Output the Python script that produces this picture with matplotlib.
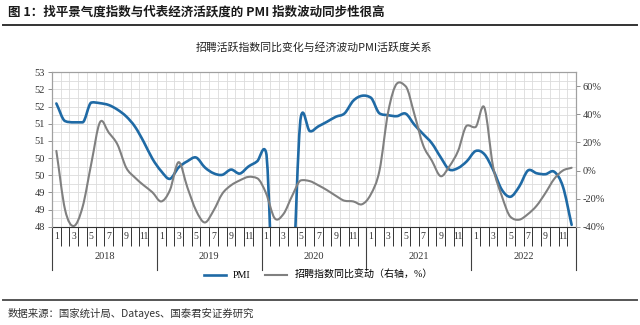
import numpy as np
import matplotlib
matplotlib.use("Agg")
import matplotlib.pyplot as plt
import matplotlib.transforms as mtransforms
from matplotlib.path import Path
from matplotlib.patches import PathPatch
from matplotlib.lines import Line2D

plt.rcParams['font.family'] = ['Liberation Serif', 'Noto Sans CJK SC']

years = ["2018", "2019", "2020", "2021", "2022"]
month_labels = ["1", "3", "5", "7", "9", "11"]

# PMI (left axis), monthly 2018-01 .. 2022-12
pmi = [51.99, 51.42, 51.38, 51.38, 52.02, 52.00, 51.94, 51.79, 51.57, 51.24, 50.75, 50.20,
       49.80, 49.55, 49.92, 50.12, 50.24, 49.92, 49.73, 49.68, 49.85, 49.72, 49.95, 50.12,
       50.42, 44.00, 42.00, 45.50, 51.56, 51.10, 51.25, 51.40, 51.56, 51.67, 52.08, 52.24,
       52.18, 51.67, 51.61, 51.58, 51.66, 51.30, 51.00, 50.70, 50.25, 49.85, 49.90, 50.12,
       50.45, 50.35, 49.85, 49.20, 48.97, 49.30, 49.82, 49.73, 49.70, 49.78, 49.30, 48.06]

# 招聘指数同比变动 (right axis, %)
recruit_yoy = [14, -28, -39.5, -26, 5, 34.5, 27, 18.5, 2, -5, -10.5, -15.5,
               -22, -14, 6, -12, -28.5, -37, -28.5, -16.5, -10.5, -7, -4.5, -5.5,
               -16, -34, -31, -18, -7, -7.5, -10.5, -14, -18, -21.5, -22, -24,
               -17, 0, 42, 62, 60, 40, 18, 7, -4, 3, 14, 32,
               31, 45, 3, -18, -33, -35, -31, -25, -16, -6, 0, 2]

blue = "#1f6aa5"
grey = "#808080"


def smooth_path(y):
    # smoothed line as cubic Bezier pieces; tangents limited so that
    # big jumps do not make the curve swing far past a point
    y = np.asarray(y, dtype=float)
    x = np.arange(len(y), dtype=float)
    d = np.diff(y)
    m = np.zeros_like(y)
    m[0], m[-1] = d[0], d[-1]
    for k in range(1, len(y) - 1):
        lim = 3 * min(abs(d[k - 1]), abs(d[k]))
        m[k] = np.clip((y[k + 1] - y[k - 1]) / 2, -lim, lim)
    verts = [(x[0], y[0])]
    codes = [Path.MOVETO]
    for k in range(len(y) - 1):
        verts += [(x[k] + 1 / 3, y[k] + m[k] / 3),
                  (x[k + 1] - 1 / 3, y[k + 1] - m[k + 1] / 3),
                  (x[k + 1], y[k + 1])]
        codes += [Path.CURVE4] * 3
    return Path(verts, codes)


fig = plt.figure(figsize=(6.4, 3.25), dpi=100)
ax = fig.add_axes([52 / 640, 1 - 226.7 / 325, (576 - 52) / 640, (226.7 - 72.3) / 325])
ax2 = ax.twinx()

n = len(pmi)
ax.set_xlim(-0.5, n - 0.5)
ax.set_ylim(48, 53)
ax2.set_ylim(-40, 70)

ax.add_patch(PathPatch(smooth_path(pmi), fill=False, edgecolor=blue, lw=1.9,
                       capstyle='round', joinstyle='round'))
ax2.add_patch(PathPatch(smooth_path(recruit_yoy), fill=False, edgecolor=grey, lw=1.5,
                        capstyle='round', joinstyle='round'))

# left axis: 10 labels, 18 grid rows
ax.set_yticks(np.linspace(48, 53, 10))
ax.set_yticklabels(["%.0f" % v for v in np.linspace(48, 53, 10)])
ax.set_yticks(np.linspace(48, 53, 19), minor=True)
ax.tick_params(axis='y', which='major', direction='out', length=3, width=0.6,
               color='#808080', labelsize=7.5, labelcolor='#333333', pad=2)
ax.tick_params(axis='y', which='minor', length=0)

ax2.set_yticks(np.arange(-40, 61, 20))
ax2.set_yticklabels(["%d%%" % v for v in np.arange(-40, 61, 20)])
ax2.tick_params(axis='y', direction='out', length=3, width=0.6, color='#808080',
                labelsize=7.5, labelcolor='#333333', pad=2)

# x axis: month boundaries as ticks, odd months labelled in the cells
ax.set_xticks(np.arange(-0.5, n, 1))
ax.set_xticklabels([])
ax.set_xticks(np.arange(0, n, 2), minor=True)
ax.set_xticklabels(month_labels * len(years), minor=True)
ax.tick_params(axis='x', which='major', direction='out', length=13.5, width=0.7, color='#333333')
ax.tick_params(axis='x', which='minor', length=0, labelsize=7, labelcolor='#333333', pad=4)

ax.grid(axis='x', which='major', color='#dcdcdc', lw=0.6)
ax.grid(axis='y', which='both', color='#dcdcdc', lw=0.6)
ax.set_axisbelow(True)

for side in ['left', 'top', 'right']:
    ax.spines[side].set_color('#a0a0a0')
    ax2.spines[side].set_color('#a0a0a0')
ax.spines['bottom'].set_color('#333333')
ax2.spines['bottom'].set_visible(False)

trans = mtransforms.blended_transform_factory(ax.transData, ax.transAxes)
for b in np.arange(-0.5, n, 12):
    ax.plot([b, b], [0, -0.28], transform=trans, clip_on=False, color='#404040', lw=0.8)
for k, yr in enumerate(years):
    ax.text(5.5 + 12 * k, -0.19, yr, transform=trans, ha='center', va='center',
            fontsize=7.5, color='#333333')

ax.set_title("招聘活跃指数同比变化与经济波动PMI活跃度关系", fontsize=7.8,
             family=['Noto Sans CJK SC', 'DejaVu Sans'], pad=15.5, color='#222222')

handles = [Line2D([], [], color=blue, lw=1.9, label='PMI'),
           Line2D([], [], color=grey, lw=1.5, label='招聘指数同比变动（右轴，%）')]
fig.legend(handles=handles, loc='center', bbox_to_anchor=(0.497, 1 - 275 / 325), ncol=2,
           frameon=False, fontsize=7.2, handlelength=2.2, columnspacing=1.5, handletextpad=0.7)

fig.text(8 / 640, 1 - 12 / 325, "图 1：找平景气度指数与代表经济活跃度的 PMI 指数波动同步性很高",
         fontsize=9, fontweight='bold', va='center', ha='left', color='#1a1a1a',
         family=['Noto Sans CJK SC', 'DejaVu Sans'])
fig.add_artist(Line2D([3 / 640, 637 / 640], [1 - 25 / 325] * 2, color='#333333', lw=1.4))
fig.add_artist(Line2D([3 / 640, 637 / 640], [1 - 300 / 325] * 2, color='#555555', lw=1.4))
fig.text(8 / 640, 1 - 313 / 325, "数据来源：国家统计局、Datayes、国泰君安证券研究",
         fontsize=7.5, va='center', ha='left', color='#333333',
         family=['Noto Sans CJK SC', 'DejaVu Sans'])

fig.savefig("out.png", dpi=100)
